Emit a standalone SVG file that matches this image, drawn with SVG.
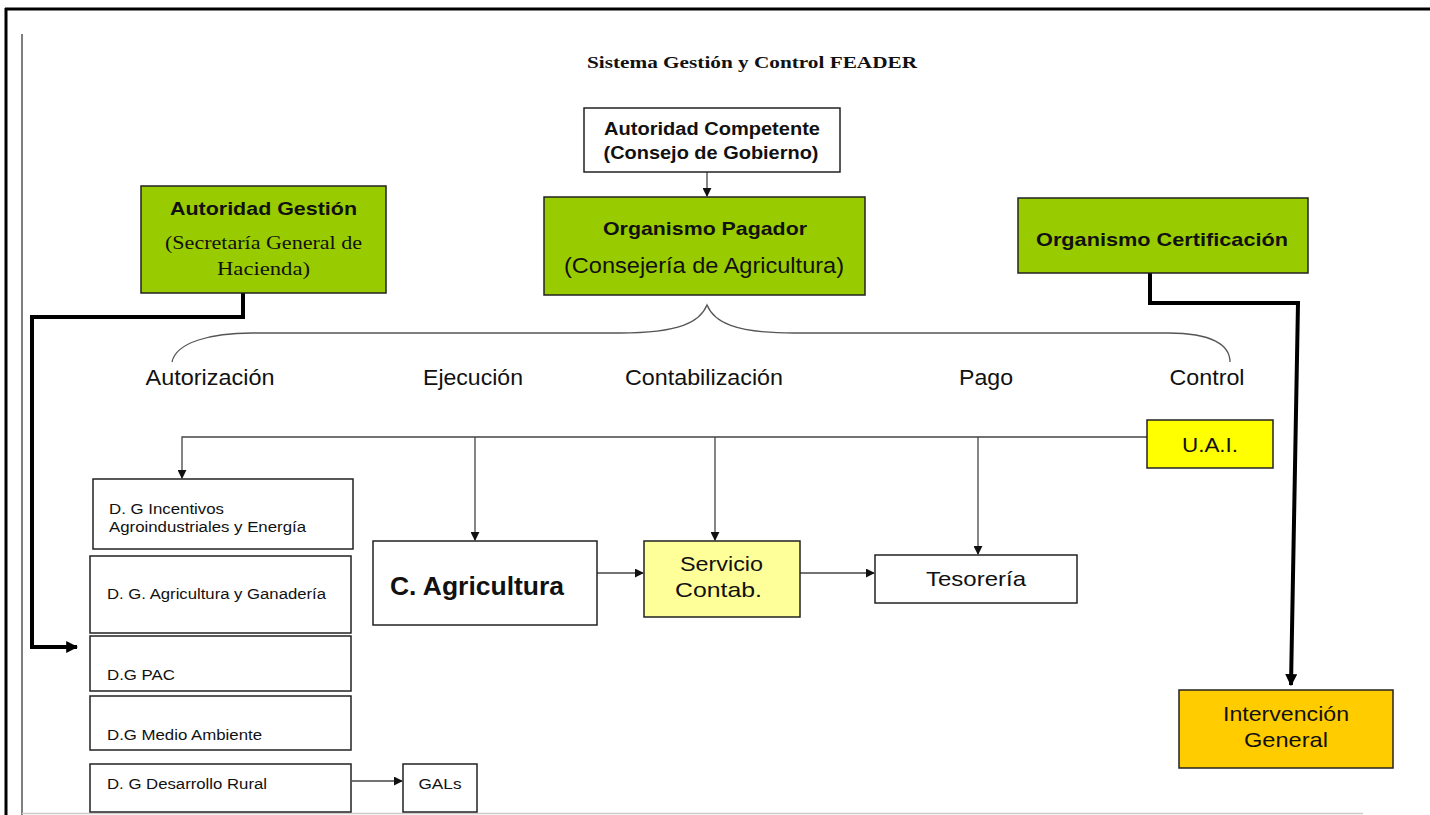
<svg xmlns="http://www.w3.org/2000/svg" width="1430" height="815" viewBox="0 0 1430 815">
<defs>
<style>
.box{stroke:#222;stroke-width:1.5}
.w{fill:#fff}
.g{fill:#99cc00}
.y{fill:#ffff00}
.ly{fill:#ffff99}
.o{fill:#ffcc00}
.t{font-family:"Liberation Sans",Arial,sans-serif;fill:#111}
.b{font-weight:bold}
.s{font-family:"Liberation Serif","Times New Roman",serif;fill:#111}
.thin{stroke:#444;stroke-width:1.3;fill:none}
.thick{stroke:#000;stroke-width:4;fill:none}
</style>
<marker id="a" viewBox="0 0 10 10" refX="9" refY="5" markerWidth="9" markerHeight="9" markerUnits="userSpaceOnUse" orient="auto"><path d="M0,0L10,5L0,10z" fill="#111"/></marker>
<marker id="ab" viewBox="0 0 10 10" refX="9" refY="5" markerWidth="12" markerHeight="12" markerUnits="userSpaceOnUse" orient="auto"><path d="M0,0L10,5L0,10z" fill="#000"/></marker>
</defs>
<rect width="1430" height="815" fill="#fff"/>
<g id="frame">
<line x1="5" y1="9" x2="1430" y2="9" stroke="#000" stroke-width="3"/>
<line x1="6" y1="8" x2="6" y2="815" stroke="#000" stroke-width="3"/>
<line x1="22" y1="34" x2="22" y2="815" stroke="#555" stroke-width="1.5"/>
<line x1="22" y1="813.5" x2="1363" y2="813.5" stroke="#ccc" stroke-width="1.5"/>
</g>
<text class="s b" x="752" y="68" font-size="17" text-anchor="middle" textLength="330" lengthAdjust="spacingAndGlyphs">Sistema Gestión y Control FEADER</text>
<g id="connectors">
<line class="thin" x1="707" y1="172" x2="707" y2="196" marker-end="url(#a)"/>
<path class="thick" d="M243,293 V317 H32 V647 H77" marker-end="url(#ab)"/>
<path class="thick" d="M1150,273 V303 H1298 L1291,685" marker-end="url(#ab)"/>
<path d="M172,362 C176,342 212,333 252,333 L620,333 C680,333 700,322 707,305 C714,322 734,333 794,333 L1168,333 C1212,333 1230,345 1230,362" fill="none" stroke="#555" stroke-width="1.3"/>
<path class="thin" d="M1147,437 H182 V478" marker-end="url(#a)"/>
<line class="thin" x1="475" y1="437" x2="475" y2="540" marker-end="url(#a)"/>
<line class="thin" x1="715" y1="437" x2="715" y2="540" marker-end="url(#a)"/>
<line class="thin" x1="978" y1="437" x2="978" y2="554" marker-end="url(#a)"/>
<line class="thin" x1="597" y1="573" x2="643" y2="573" marker-end="url(#a)"/>
<line class="thin" x1="800" y1="573" x2="874" y2="573" marker-end="url(#a)"/>
<line class="thin" x1="352" y1="781" x2="402" y2="781" marker-end="url(#a)"/>
</g>
<g id="labels" class="t" font-size="22" text-anchor="middle">
<text x="210" y="385" textLength="129" lengthAdjust="spacingAndGlyphs">Autorización</text>
<text x="473" y="385" textLength="100" lengthAdjust="spacingAndGlyphs">Ejecución</text>
<text x="704" y="385" textLength="158" lengthAdjust="spacingAndGlyphs">Contabilización</text>
<text x="986" y="385" textLength="54" lengthAdjust="spacingAndGlyphs">Pago</text>
<text x="1207" y="385" textLength="75" lengthAdjust="spacingAndGlyphs">Control</text>
</g>
<g id="autoridad-competente">
<rect class="box w" x="584" y="108" width="256" height="64"/>
<text class="t b" x="712" y="135" font-size="18" text-anchor="middle" textLength="216" lengthAdjust="spacingAndGlyphs">Autoridad Competente</text>
<text class="t b" x="711" y="159" font-size="18" text-anchor="middle" textLength="215" lengthAdjust="spacingAndGlyphs">(Consejo de Gobierno)</text>
</g>
<g id="organismo-pagador">
<rect class="box g" x="544" y="197" width="321" height="98"/>
<text class="t b" x="705" y="235" font-size="19" text-anchor="middle" textLength="204" lengthAdjust="spacingAndGlyphs">Organismo Pagador</text>
<text class="t" x="704" y="273" font-size="22" text-anchor="middle" textLength="280" lengthAdjust="spacingAndGlyphs">(Consejería de Agricultura)</text>
</g>
<g id="autoridad-gestion">
<rect class="box g" x="141" y="186" width="245" height="107"/>
<text class="t b" x="263.5" y="215" font-size="19" text-anchor="middle" textLength="187" lengthAdjust="spacingAndGlyphs">Autoridad Gestión</text>
<text class="s" x="263.5" y="249" font-size="19" text-anchor="middle" textLength="197" lengthAdjust="spacingAndGlyphs">(Secretaría General de</text>
<text class="s" x="263.5" y="275" font-size="19" text-anchor="middle" textLength="93" lengthAdjust="spacingAndGlyphs">Hacienda)</text>
</g>
<g id="organismo-certificacion">
<rect class="box g" x="1018" y="198" width="290" height="75"/>
<text class="t b" x="1162" y="246" font-size="19" text-anchor="middle" textLength="252" lengthAdjust="spacingAndGlyphs">Organismo Certificación</text>
</g>
<g id="uai">
<rect class="box y" x="1147" y="420" width="126" height="48"/>
<text class="t" x="1210" y="452" font-size="20" text-anchor="middle" textLength="56" lengthAdjust="spacingAndGlyphs">U.A.I.</text>
</g>
<g id="dg-incentivos">
<rect class="box w" x="93" y="479" width="260" height="70"/>
<text class="t" x="109" y="514" font-size="15.5" textLength="115" lengthAdjust="spacingAndGlyphs">D. G Incentivos</text>
<text class="t" x="109" y="532" font-size="15.5" textLength="197" lengthAdjust="spacingAndGlyphs">Agroindustriales y Energía</text>
</g>
<g id="dg-agricultura">
<rect class="box w" x="90" y="556" width="261" height="77"/>
<text class="t" x="107" y="599" font-size="15.5" textLength="219" lengthAdjust="spacingAndGlyphs">D. G. Agricultura y Ganadería</text>
</g>
<g id="dg-pac">
<rect class="box w" x="90" y="636" width="261" height="55"/>
<text class="t" x="107" y="680" font-size="15.5" textLength="68" lengthAdjust="spacingAndGlyphs">D.G PAC</text>
</g>
<g id="dg-medio-ambiente">
<rect class="box w" x="90" y="696" width="261" height="54"/>
<text class="t" x="107" y="740" font-size="15.5" textLength="155" lengthAdjust="spacingAndGlyphs">D.G Medio Ambiente</text>
</g>
<g id="dg-desarrollo-rural">
<rect class="box w" x="90" y="764" width="261" height="48"/>
<text class="t" x="107" y="789" font-size="15.5" textLength="160" lengthAdjust="spacingAndGlyphs">D. G Desarrollo Rural</text>
</g>
<g id="gals">
<rect class="box w" x="403" y="764" width="74" height="48"/>
<text class="t" x="440" y="789" font-size="15.5" text-anchor="middle" textLength="43" lengthAdjust="spacingAndGlyphs">GALs</text>
</g>
<g id="c-agricultura">
<rect class="box w" x="373" y="541" width="224" height="84"/>
<text class="t b" x="477" y="595" font-size="25" text-anchor="middle" textLength="174" lengthAdjust="spacingAndGlyphs">C. Agricultura</text>
</g>
<g id="servicio-contab">
<rect class="box ly" x="644" y="541" width="156" height="76"/>
<text class="t" x="721.5" y="571" font-size="21" text-anchor="middle" textLength="83" lengthAdjust="spacingAndGlyphs">Servicio</text>
<text class="t" x="718.5" y="597" font-size="21" text-anchor="middle" textLength="87" lengthAdjust="spacingAndGlyphs">Contab.</text>
</g>
<g id="tesoreria">
<rect class="box w" x="875" y="555" width="202" height="48"/>
<text class="t" x="976" y="586" font-size="21" text-anchor="middle" textLength="100" lengthAdjust="spacingAndGlyphs">Tesorería</text>
</g>
<g id="intervencion-general">
<rect class="box o" x="1179" y="690" width="214" height="78"/>
<text class="t" x="1286" y="721" font-size="21" text-anchor="middle" textLength="126" lengthAdjust="spacingAndGlyphs">Intervención</text>
<text class="t" x="1286" y="747" font-size="21" text-anchor="middle" textLength="84" lengthAdjust="spacingAndGlyphs">General</text>
</g>
</svg>
